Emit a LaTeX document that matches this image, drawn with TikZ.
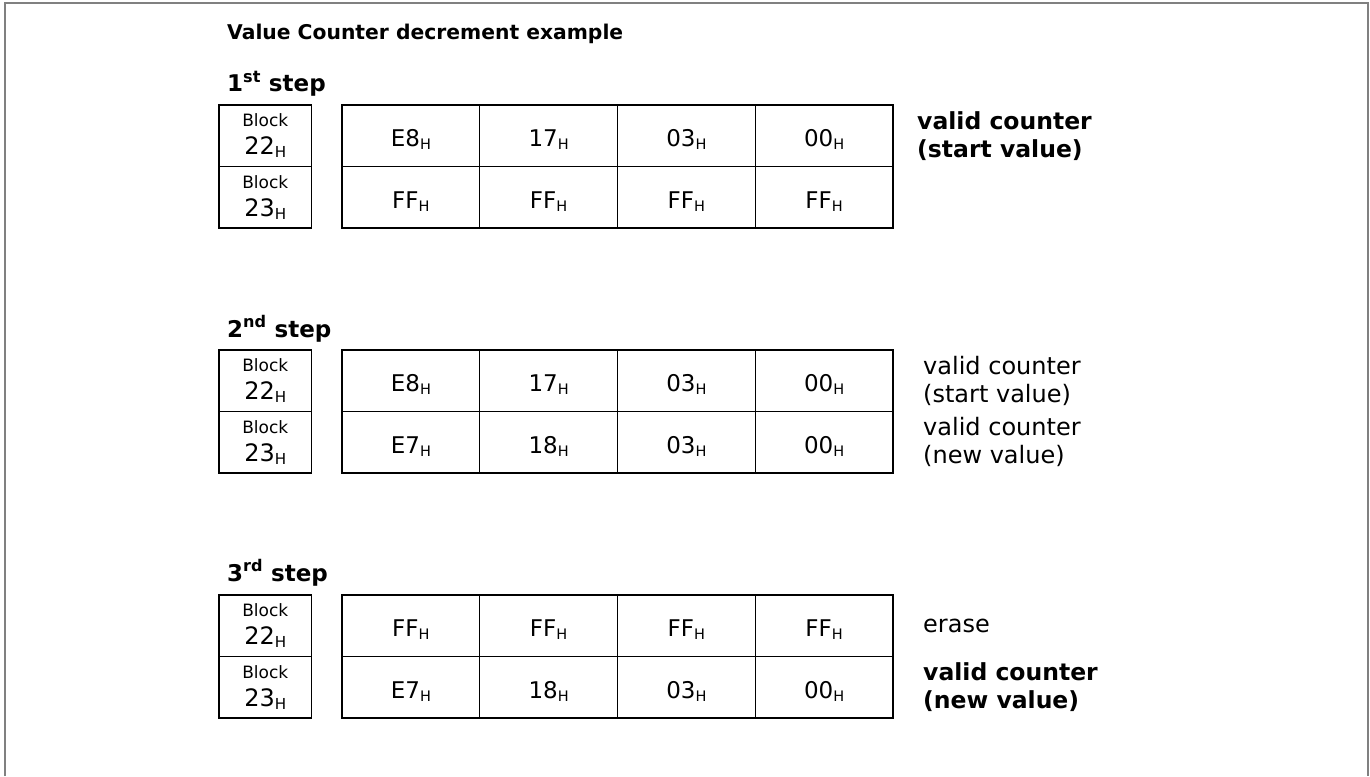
\documentclass[tikz,border=0pt]{standalone}
\usepackage{fontspec}
\setmainfont{DejaVu Sans}
\usetikzlibrary{positioning}

\newcommand{\hexv}[1]{#1\raisebox{-.14em}{\scalebox{.63}{H}}}

\begin{document}
\begin{tikzpicture}
    [ x = 1pt, y = -1pt
    , frame/.style =
      { draw = black!50, line width = 2pt }
    , cell/.style =
      { draw, line width = 1.3pt, minimum width = 137.75pt, minimum height = 61.5pt
      , inner sep = 0pt, outer sep = 0pt, text height = 22pt, text depth = 0pt
      , font = \fontsize{23}{27}\selectfont }
    , blockbox/.style =
      { cell, minimum width = 92.5pt, align = center, text height = , text depth =
      , font = \fontsize{17}{28}\selectfont }
    , heading/.style =
      { anchor = base west, inner sep = 0pt, font = \bfseries\fontsize{20.3}{24}\selectfont }
    , steplabel/.style =
      { heading, font = \bfseries\fontsize{23}{27}\selectfont }
    , note/.style =
      { inner sep = 0pt, align = left, font = \fontsize{24}{28}\selectfont }
    , strong/.style =
      { font = \bfseries\fontsize{23.5}{28}\selectfont }
    ]
    \useasboundingbox (0,0) rectangle (1370,776);
    \draw [frame] (5,776) |- (1368,3) -- (1368,776);

    \node [heading] (title) at (227,40) {Value Counter decrement example};

    % 1st step
    \node [steplabel] (stepA) at (227,92) {1\textsuperscript{st} step};
    \node [blockbox, anchor = north west] (blockA1) at (219,105) {Block\\\fontsize{24}{28}\selectfont\hexv{22}};
    \node [blockbox] (blockA2) [below=0pt of blockA1] {Block\\\fontsize{24}{28}\selectfont\hexv{23}};
    \node [cell, anchor = north west] (A11) at (342,105) {\hexv{E8}};
    \node [cell] (A12) [right=0pt of A11] {\hexv{17}};
    \node [cell] (A13) [right=0pt of A12] {\hexv{03}};
    \node [cell] (A14) [right=0pt of A13] {\hexv{00}};
    \node [cell] (A21) [below=0pt of A11] {\hexv{FF}};
    \node [cell] (A22) [right=0pt of A21] {\hexv{FF}};
    \node [cell] (A23) [right=0pt of A22] {\hexv{FF}};
    \node [cell] (A24) [right=0pt of A23] {\hexv{FF}};
    \node [note,strong] (noteA1) [right=24pt of A14] {valid counter\\(start value)};

    % 2nd step
    \node [steplabel] (stepB) at (227,337) {2\textsuperscript{nd} step};
    \node [blockbox, anchor = north west] (blockB1) at (219,350) {Block\\\fontsize{24}{28}\selectfont\hexv{22}};
    \node [blockbox] (blockB2) [below=0pt of blockB1] {Block\\\fontsize{24}{28}\selectfont\hexv{23}};
    \node [cell, anchor = north west] (B11) at (342,350) {\hexv{E8}};
    \node [cell] (B12) [right=0pt of B11] {\hexv{17}};
    \node [cell] (B13) [right=0pt of B12] {\hexv{03}};
    \node [cell] (B14) [right=0pt of B13] {\hexv{00}};
    \node [cell] (B21) [below=0pt of B11] {\hexv{E7}};
    \node [cell] (B22) [right=0pt of B21] {\hexv{18}};
    \node [cell] (B23) [right=0pt of B22] {\hexv{03}};
    \node [cell] (B24) [right=0pt of B23] {\hexv{00}};
    \node [note] (noteB1) [right=30pt of B14] {valid counter\\(start value)};
    \node [note] (noteB2) [right=30pt of B24] {valid counter\\(new value)};

    % 3rd step
    \node [steplabel] (stepC) at (227,581) {3\textsuperscript{rd} step};
    \node [blockbox, anchor = north west] (blockC1) at (219,595) {Block\\\fontsize{24}{28}\selectfont\hexv{22}};
    \node [blockbox] (blockC2) [below=0pt of blockC1] {Block\\\fontsize{24}{28}\selectfont\hexv{23}};
    \node [cell, anchor = north west] (C11) at (342,595) {\hexv{FF}};
    \node [cell] (C12) [right=0pt of C11] {\hexv{FF}};
    \node [cell] (C13) [right=0pt of C12] {\hexv{FF}};
    \node [cell] (C14) [right=0pt of C13] {\hexv{FF}};
    \node [cell] (C21) [below=0pt of C11] {\hexv{E7}};
    \node [cell] (C22) [right=0pt of C21] {\hexv{18}};
    \node [cell] (C23) [right=0pt of C22] {\hexv{03}};
    \node [cell] (C24) [right=0pt of C23] {\hexv{00}};
    \node [note] (noteC1) [right=30pt of C14] {erase};
    \node [note,strong] (noteC2) [right=30pt of C24] {valid counter\\(new value)};
  \end{tikzpicture}
\end{document}
